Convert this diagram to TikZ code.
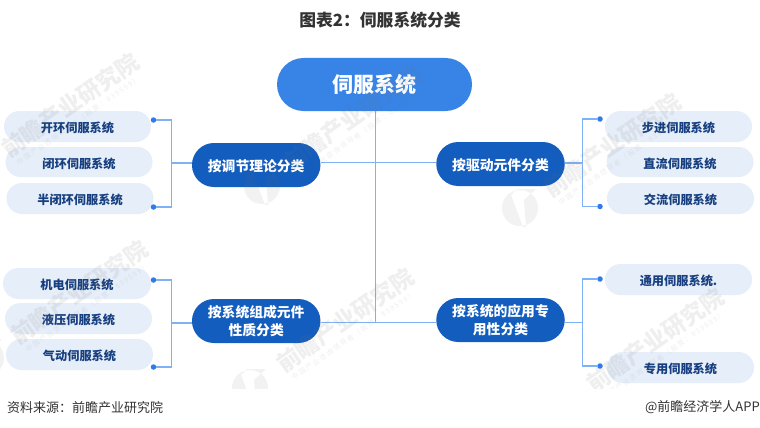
\documentclass[tikz,border=0pt]{standalone}
\usepackage{fontspec}
\setmainfont{Noto Sans CJK SC}
\newfontfamily\cjk{Noto Sans CJK SC}
\newfontfamily\cjksub[LetterSpace=20]{Noto Sans CJK SC}
\usetikzlibrary{shapes.misc}
\definecolor{rootblue}{HTML}{3783E6}
\definecolor{groupblue}{HTML}{135DBE}
\definecolor{leafbg}{HTML}{E6EEF9}
\definecolor{leaftext}{HTML}{173F80}
\definecolor{linkblue}{HTML}{7FB2F5}
\definecolor{dotblue}{HTML}{2F7BEA}
\definecolor{inkgray}{HTML}{333333}
\tikzset{
  x=1pt,y=-1pt,
  rootbox/.style={rounded rectangle,fill=rootblue,text=white,font=\cjk\bfseries\fontsize{21}{24}\selectfont,minimum width=195pt,minimum height=53pt,inner sep=0pt},
  groupbox/.style={rounded rectangle,fill=groupblue,text=white,font=\cjk\bfseries\fontsize{13.8}{18}\selectfont,minimum width=128.5pt,minimum height=44pt,inner sep=0pt,align=center,execute at begin node={\rule{0pt}{14.4pt}}},
  leafbox/.style={rounded rectangle,fill=leafbg,text=leaftext,font=\cjk\bfseries\fontsize{12.2}{14}\selectfont,minimum width=147pt,minimum height=31pt,inner sep=0pt,execute at begin node={\rule{0pt}{13.4pt}}},
  dotnode/.style={circle,fill=dotblue,minimum size=5.5pt,inner sep=0pt},
  conn/.style={draw=linkblue,line width=1.2pt},
  wmtext/.style={font=\cjk\bfseries\fontsize{23}{26}\selectfont,text=black!55,opacity=.11,rotate=35,inner sep=0pt},
  wmsub/.style={font=\cjksub\fontsize{7}{9}\selectfont,text=black!55,opacity=.11,rotate=35,inner sep=0pt},
  wmlogo/.style={fill=black!55,opacity=.09},
}
\newcommand{\wmark}[3]{%
  \node[wmtext] (wm#1) at (#2,#3) {前瞻产业研究院};
  \node[wmsub] (wms#1) at (#2+8,#3+16) {中国产业咨询领导者（股票：839599）};
}
\newcommand{\wlogo}[2]{%
  \begin{scope}[shift={(#1,#2)}]
    \path[wmlogo,even odd rule] (0,0) circle (18) (-9,-13) -- (-3,-19) -- (16,-19) -- (4,-8) -- (6,19) -- (3,19) -- (-6,-5) -- cycle;
  \end{scope}
}
\begin{document}
\begin{tikzpicture}
\useasboundingbox (0,0) rectangle (760,428);
\fill[white] (0,0) rectangle (760,428);

\node[font=\cjk\bfseries\fontsize{16.8}{18}\selectfont,text=inkgray] (title) at (380,20.5) {图表2：伺服系统分类};

% nodes
\node[rootbox] (root) at (374.5,84.5) {伺服系统};
\node[groupbox] (gA) at (256.2,165) {按调节理论分类};
\node[groupbox] (gB) at (500.5,164) {按驱动元件分类};
\node[groupbox] (gC) at (256.2,321) {按系统组成元件\\性质分类};
\node[groupbox] (gD) at (500.5,320) {按系统的应用专\\用性分类};

\node[leafbox] (a1) at (77.5,126.5) {开环伺服系统};
\node[leafbox,minimum height=30pt] (a2) at (79,162) {闭环伺服系统};
\node[leafbox] (a3) at (80,198.5) {半闭环伺服系统};
\node[leafbox,minimum width=148pt] (c1) at (77,283.5) {机电伺服系统};
\node[leafbox] (c2) at (78.5,318.5) {液压伺服系统};
\node[leafbox] (c3) at (79.5,354.5) {气动伺服系统};
\node[leafbox] (b1) at (678.5,126.5) {步进伺服系统};
\node[leafbox,minimum height=30pt] (b2) at (680,162) {直流伺服系统};
\node[leafbox] (b3) at (680.5,198.5) {交流伺服系统};
\node[leafbox] (d1) at (678.5,279.5) {通用伺服系统.};
\node[leafbox] (d2) at (680.5,367.5) {专用伺服系统};

% connector points
\node[dotnode] (dA1) at (153.5,120) {};
\node[dotnode] (dA2) at (153.5,207) {};
\node[dotnode] (dB1) at (600,119) {};
\node[dotnode] (dB2) at (600,206.5) {};
\node[dotnode] (dC1) at (153.5,280) {};
\node[dotnode] (dC2) at (153.5,367) {};
\node[dotnode] (dD1) at (600,279) {};
\node[dotnode] (dD2) at (600,366) {};
\coordinate (jA) at (171.5,163);
\coordinate (jB) at (582.5,163);
\coordinate (jC) at (171.5,323);
\coordinate (jD) at (582.5,322.5);
\coordinate (hubTop) at (375.5,111);
\coordinate (hubA) at (375.5,162.5);
\coordinate (hubB) at (375.5,322.5);

% connectors
\draw[conn] (dA1) -| (jA) |- (dA2);
\draw[conn] (dB1) -| (jB) |- (dB2);
\draw[conn] (dC1) -| (jC) |- (dC2);
\draw[conn] (dD1) -| (jD) |- (dD2);
\draw[conn] (jA) -- (jA -| gA.west);
\draw[conn] (jB) -- (jB -| gB.east);
\draw[conn] (jC) -- (jC -| gC.west);
\draw[conn] (jD) -- (jD -| gD.east);
\draw[conn] (hubTop) -- (hubB);
\draw[conn] (hubA -| gA.east) -- (hubA -| gB.west);
\draw[conn] (hubB -| gC.east) -- (hubB -| gD.west);

% watermarks
\begin{scope}
\clip (0,40) rectangle (760,388);
\wmark{1}{70}{105}
\wmark{2}{352}{118}
\wmark{3}{612}{145}
\wmark{4}{79}{292}
\wmark{5}{345}{320}
\wmark{6}{655}{340}
\wlogo{262}{186}
\wlogo{520}{208}
\wlogo{250}{388}
\wlogo{-14}{358}
\end{scope}

% footer
\node[font=\cjk\fontsize{13}{15}\selectfont,text=inkgray,anchor=west,inner sep=0pt] (src) at (7,407.5) {资料来源：前瞻产业研究院};
\node[font=\cjk\fontsize{13}{15}\selectfont,text=inkgray,anchor=east,inner sep=0pt] (app) at (760,407.5) {@前瞻经济学人APP};
\end{tikzpicture}
\end{document}
